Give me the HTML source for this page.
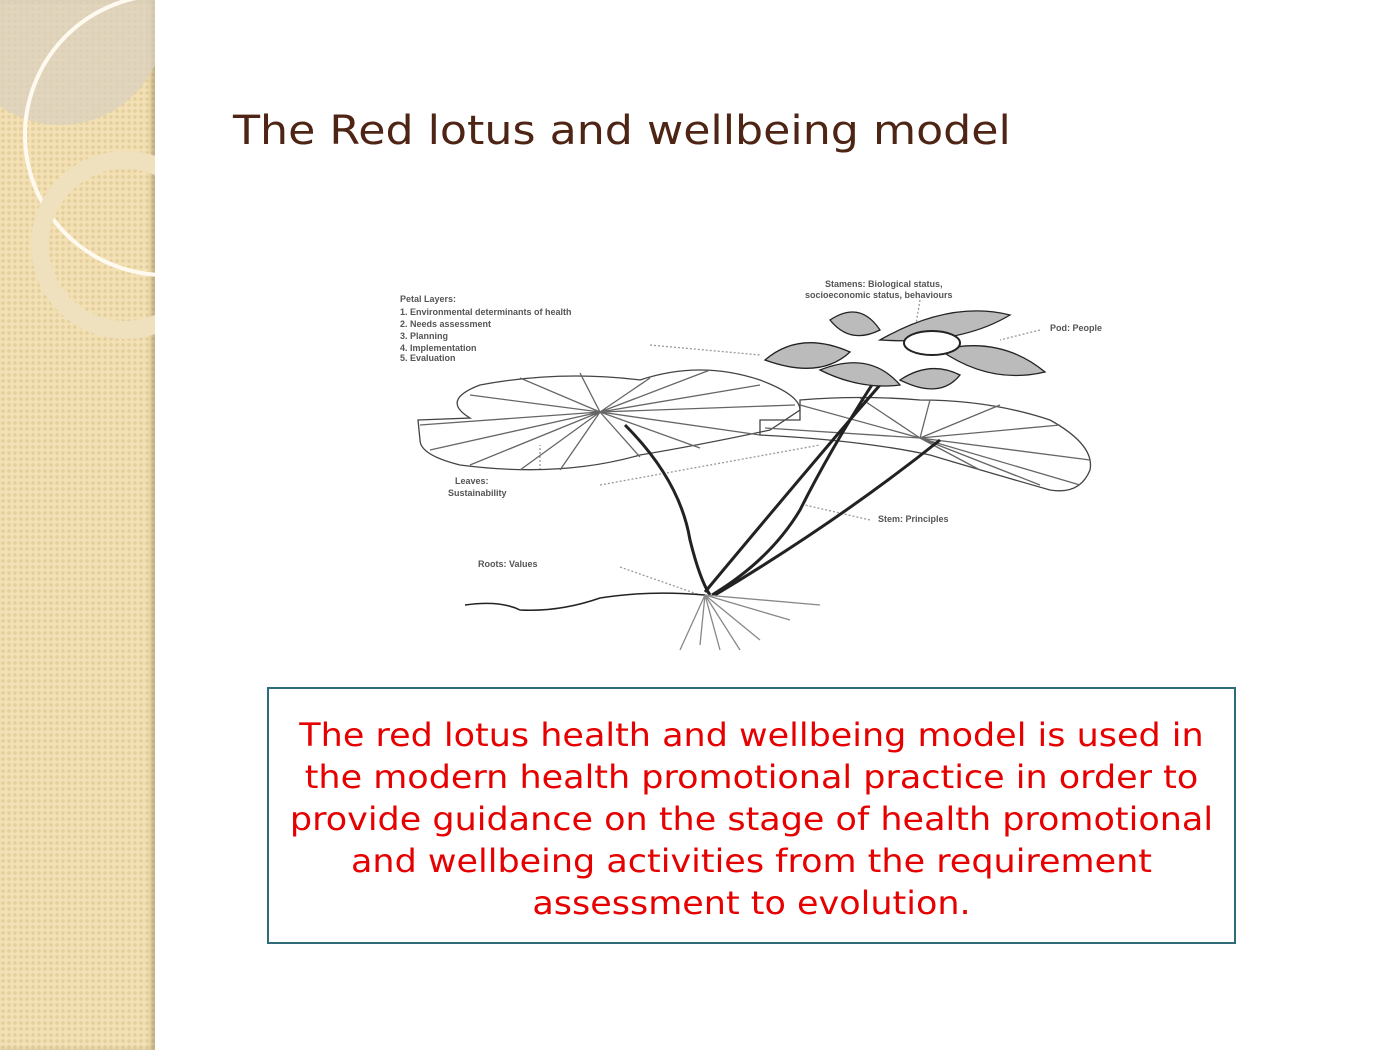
<!DOCTYPE html>
<html><head><meta charset="utf-8"><style>
body{margin:0;width:1400px;height:1050px;background:#fff;position:relative;overflow:hidden;font-family:"DejaVu Sans","Liberation Sans",sans-serif}
.side{position:absolute;left:0;top:0;width:155px;height:1050px;background-color:#f3e1b5;background-image:radial-gradient(circle,#e4cf9e 1.6px,transparent 2.2px);background-size:6px 6px;overflow:hidden;box-shadow:inset -4px 0 5px rgba(120,100,60,.35)}
h1{position:absolute;left:233px;top:108px;margin:0;font-weight:normal;font-size:40px;color:#4e2415;white-space:nowrap;transform:scaleX(1.107);transform-origin:0 0}
.box{position:absolute;left:267px;top:687px;width:965px;height:253px;border:2.5px solid #2f6b78;box-sizing:content-box;text-align:center;color:#e60000;font-size:32px;line-height:42px}
.box div{margin-top:25px;transform:scaleX(1.093);transform-origin:50% 0;white-space:nowrap}
</style></head><body>
<div class="side">
<svg width="155" height="1050" style="position:absolute;left:0;top:0">
<circle cx="60" cy="20" r="105" fill="#d9d0c0" opacity=".7"/>
<circle cx="165" cy="135" r="140" fill="none" stroke="#fffaf0" stroke-width="4"/>
<circle cx="125" cy="245" r="85" fill="none" stroke="#efe0be" stroke-width="18"/>
</svg>
</div>
<h1>The Red lotus and wellbeing model</h1>
<svg width="1400" height="1050" style="position:absolute;left:0;top:0" fill="none" stroke="#333" stroke-width="1.3">
<g font-size="9" fill="#555" stroke="none" font-family="Liberation Sans,sans-serif" font-weight="bold">
<text x="400" y="302">Petal Layers:</text>
<text x="400" y="315">1. Environmental determinants of health</text>
<text x="400" y="327">2. Needs assessment</text>
<text x="400" y="339">3. Planning</text>
<text x="400" y="351">4. Implementation</text>
<text x="400" y="361">5. Evaluation</text>
<text x="825" y="287">Stamens: Biological status,</text>
<text x="805" y="298">socioeconomic status, behaviours</text>
<text x="1050" y="331">Pod: People</text>
<text x="455" y="484">Leaves:</text>
<text x="448" y="496">Sustainability</text>
<text x="878" y="522">Stem: Principles</text>
<text x="478" y="567">Roots: Values</text>
</g>
<g stroke="#999" stroke-dasharray="2 2">
<line x1="650" y1="345" x2="760" y2="355"/><line x1="920" y1="300" x2="915" y2="330"/>
<line x1="1040" y1="330" x2="1000" y2="340"/><line x1="600" y1="485" x2="820" y2="445"/>
<line x1="870" y1="520" x2="805" y2="505"/><line x1="620" y1="567" x2="700" y2="595"/>
<line x1="540" y1="470" x2="540" y2="445"/>
</g>
<path d="M418 420 L470 418 Q440 400 480 385 Q560 370 640 380 Q700 360 760 380 Q800 395 800 410 L770 430 Q700 445 640 455 Q560 478 460 465 Q420 455 420 440Z" stroke="#444"/>
<g stroke="#666"><path d="M600 412 L420 425 M600 412 L430 450 M600 412 L470 465 M600 412 L520 470 M600 412 L470 395 M600 412 L520 378 M600 412 L580 373 M600 412 L650 378 M600 412 L710 370 M600 412 L760 385 M600 412 L795 405 M600 412 L760 435 M600 412 L700 448 M600 412 L640 457 M600 412 L560 470"/></g>
<path d="M760 420 L800 420 L800 400 Q860 395 920 400 Q990 400 1050 420 Q1095 445 1090 470 Q1080 495 1050 490 Q980 470 930 455 Q860 440 760 435Z" stroke="#444"/>
<g stroke="#666"><path d="M920 438 L765 428 M920 438 L800 405 M920 438 L860 398 M920 438 L930 400 M920 438 L1000 405 M920 438 L1060 425 M920 438 L1090 460 M920 438 L1080 485 M920 438 L1040 485 M920 438 L980 470"/></g>
<g stroke="#222" stroke-width="3">
<path d="M625 425 Q680 480 690 540 Q700 580 710 595"/>
<path d="M875 380 Q830 450 800 510 Q770 560 712 595"/>
<path d="M940 440 Q840 520 715 595"/>
<path d="M880 385 Q815 460 705 592"/>
</g>
<g stroke="#222" stroke-width="1.5"><path d="M465 605 Q500 600 520 610 Q560 612 600 598 Q650 590 705 595"/></g>
<g stroke="#888"><path d="M705 595 L680 650 M705 595 L720 650 M705 595 L760 640 M705 595 L790 620 M705 595 L820 605 M705 595 L740 650 M705 595 L700 645"/></g>
<g stroke="#222" fill="#bbb">
<path d="M765 360 Q800 330 850 352 Q820 380 765 360Z"/>
<path d="M820 370 Q860 390 900 385 Q870 350 820 370Z"/>
<path d="M830 320 Q860 300 880 330 Q850 345 830 320Z"/>
<path d="M880 340 Q950 300 1010 315 Q960 345 880 340Z"/>
<path d="M940 350 Q1000 335 1045 372 Q990 385 940 350Z"/>
<path d="M900 380 Q940 400 960 375 Q930 360 900 380Z"/>
</g>
<ellipse cx="932" cy="343" rx="28" ry="12" fill="#fff" stroke="#222" stroke-width="2"/>
</svg>
<div class="box"><div>The red lotus health and wellbeing model is used in<br>the modern health promotional practice in order to<br>provide guidance on the stage of health promotional<br>and wellbeing activities from the requirement<br>assessment to evolution.</div></div>
</body></html>
